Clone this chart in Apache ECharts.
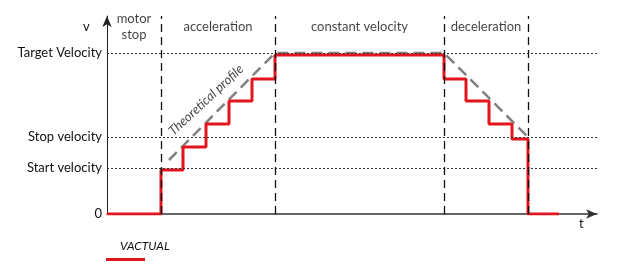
<!DOCTYPE html>
<html><head><meta charset="utf-8">
<script src="https://cdn.jsdelivr.net/npm/echarts@6/dist/echarts.min.js"></script>
<style>html,body{margin:0;padding:0;background:#fff}#c{width:620px;height:266px}</style>
</head><body><div id="c"></div>
<script>
// time in arbitrary units, velocity in arbitrary units
const phaseNames = ['motor\nstop', 'acceleration', 'constant velocity', 'deceleration'];
const phaseBounds = [0, 54, 168, 337, 421];
const levelNames = ['0', 'Start velocity', 'Stop velocity', 'Target Velocity'];
const levelValues = [0, 46, 77, 161];
const vactualT = [0, 54, 76, 99, 122, 145, 168, 337, 359, 382, 405, 421, 452];
const vactualV = [0, 44, 67, 90, 113, 135, 159, 135, 113, 90, 75, 0, 0];
const theoT = [62, 168, 337, 421];
const theoV = [54, 161, 161, 77];

const FONT = 'Lato';
const TXT = '#111';
const chart = echarts.init(document.getElementById('c'));
chart.setOption({
  animation: false,
  textStyle: { fontFamily: FONT },
  grid: { left: 107, right: 23, top: 16, bottom: 52 },
  xAxis: {
    type: 'value', min: 0, max: 490,
    axisLine: { show: true, symbol: ['none', 'arrow'], symbolSize: [7, 11], lineStyle: { color: '#333', width: 1.5 } },
    axisTick: { show: false }, axisLabel: { show: false }, splitLine: { show: false }
  },
  yAxis: {
    type: 'value', min: 0, max: 198,
    axisLine: { show: true, symbol: ['none', 'arrow'], symbolSize: [7, 11], lineStyle: { color: '#222', width: 1 } },
    axisTick: { show: false }, splitLine: { show: false },
    axisLabel: {
      show: true, customValues: levelValues, margin: 5,
      color: TXT, fontSize: 13, fontFamily: FONT,
      formatter: v => levelNames[levelValues.indexOf(v)]
    }
  },
  series: [
    {
      type: 'line', silent: true, symbol: 'none', z: 1,
      data: [],
      markLine: {
        silent: true, symbol: 'none', label: { show: false },
        lineStyle: { color: '#333', width: 1, type: [2, 2] },
        data: levelValues.slice(1).map(v => ({ yAxis: v }))
      }
    },
    {
      type: 'line', silent: true, symbol: 'none', z: 1,
      data: [],
      markLine: {
        silent: true, symbol: 'none', label: { show: false },
        lineStyle: { color: '#111', width: 1.3, type: [8, 5] },
        data: phaseBounds.slice(1).map(v => ({ xAxis: v }))
      }
    },
    {
      name: 'Theoretical profile', type: 'line', symbol: 'none', z: 2,
      lineStyle: { color: '#808080', width: 2.5, type: [11, 6] },
      data: theoT.map((t, i) => [t, theoV[i]])
    },
    {
      name: 'VACTUAL', type: 'line', symbol: 'none', step: 'end', z: 3,
      lineStyle: { color: '#e3141c', width: 3 },
      data: vactualT.map((t, i) => [t, vactualV[i]])
    },
    {
      type: 'scatter', symbolSize: 0, silent: true, z: 4,
      data: phaseNames.map((n, i) => ({ name: n, value: [(phaseBounds[i] + phaseBounds[i + 1]) / 2, 187] })),
      label: { show: true, position: 'inside', formatter: p => p.name, color: TXT, fontSize: 13, fontFamily: FONT, lineHeight: 16 }
    },
    {
      type: 'scatter', symbolSize: 0, silent: true, z: 4,
      data: [{ name: 'Theoretical profile', value: [99, 114] }],
      label: { show: true, position: 'inside', formatter: p => p.name, rotate: 43, color: TXT, fontSize: 13, fontStyle: 'italic', fontFamily: FONT }
    }
  ],
  graphic: [
    { type: 'text', left: 83, top: 20, style: { text: 'v', font: '13px ' + FONT, fill: TXT } },
    { type: 'text', left: 579, top: 217, style: { text: 't', font: '13px ' + FONT, fill: TXT } },
    { type: 'text', left: 120, top: 240, style: { text: 'VACTUAL', font: 'italic 12px ' + FONT, fill: TXT } },
    { type: 'line', shape: { x1: 106, y1: 259.5, x2: 145, y2: 259.5 }, style: { stroke: '#e3141c', lineWidth: 3 } }
  ]
});
</script></body></html>
